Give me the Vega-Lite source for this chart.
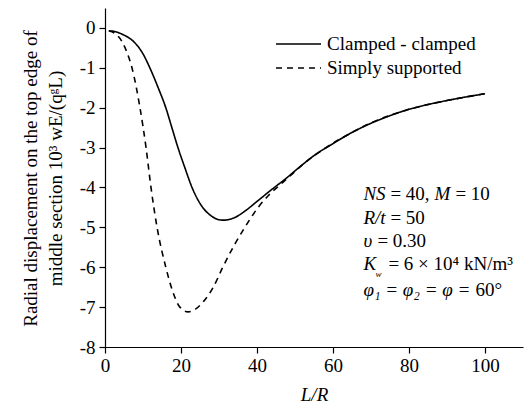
{
  "$schema": "https://vega.github.io/schema/vega-lite/v6.json",
  "width": 418,
  "height": 339,
  "autosize": "none",
  "padding": {"left": 105, "top": 8, "right": 3, "bottom": 60},
  "background": "white",
  "config": {
    "view": {"stroke": null},
    "font": "Liberation Serif",
    "axis": {"grid": false, "domainColor": "black", "tickColor": "black", "labelColor": "black", "titleColor": "black", "labelFont": "Liberation Serif", "titleFont": "Liberation Serif", "labelFontSize": 19, "titleFontSize": 19, "titleFontWeight": "normal", "domainWidth": 1.2, "tickWidth": 1.2, "labelOverlap": false},
    "text": {"font": "Liberation Serif", "fontSize": 19, "color": "black"}
  },
  "datasets": {
    "curves": [
      {"s": "Clamped - clamped", "x": 1, "y": -0.07},
      {"s": "Clamped - clamped", "x": 3, "y": -0.1},
      {"s": "Clamped - clamped", "x": 5, "y": -0.18},
      {"s": "Clamped - clamped", "x": 7.4, "y": -0.33},
      {"s": "Clamped - clamped", "x": 10, "y": -0.65},
      {"s": "Clamped - clamped", "x": 11.8, "y": -1.0},
      {"s": "Clamped - clamped", "x": 14, "y": -1.5},
      {"s": "Clamped - clamped", "x": 16, "y": -2.0},
      {"s": "Clamped - clamped", "x": 17.6, "y": -2.5},
      {"s": "Clamped - clamped", "x": 19.2, "y": -3.0},
      {"s": "Clamped - clamped", "x": 21, "y": -3.5},
      {"s": "Clamped - clamped", "x": 22.9, "y": -4.0},
      {"s": "Clamped - clamped", "x": 25, "y": -4.4},
      {"s": "Clamped - clamped", "x": 27.5, "y": -4.68},
      {"s": "Clamped - clamped", "x": 31, "y": -4.82},
      {"s": "Clamped - clamped", "x": 34, "y": -4.76},
      {"s": "Clamped - clamped", "x": 37, "y": -4.58},
      {"s": "Clamped - clamped", "x": 40, "y": -4.35},
      {"s": "Clamped - clamped", "x": 43.5, "y": -4.08},
      {"s": "Clamped - clamped", "x": 47.8, "y": -3.76},
      {"s": "Clamped - clamped", "x": 51.3, "y": -3.48},
      {"s": "Clamped - clamped", "x": 55, "y": -3.2},
      {"s": "Clamped - clamped", "x": 60, "y": -2.9},
      {"s": "Clamped - clamped", "x": 65, "y": -2.62},
      {"s": "Clamped - clamped", "x": 70, "y": -2.39},
      {"s": "Clamped - clamped", "x": 75, "y": -2.2},
      {"s": "Clamped - clamped", "x": 80, "y": -2.04},
      {"s": "Clamped - clamped", "x": 85, "y": -1.92},
      {"s": "Clamped - clamped", "x": 90, "y": -1.82},
      {"s": "Clamped - clamped", "x": 95, "y": -1.73},
      {"s": "Clamped - clamped", "x": 100, "y": -1.65},
      {"s": "Simply supported", "x": 1, "y": -0.07},
      {"s": "Simply supported", "x": 2.5, "y": -0.13},
      {"s": "Simply supported", "x": 4.4, "y": -0.33},
      {"s": "Simply supported", "x": 5.8, "y": -0.62},
      {"s": "Simply supported", "x": 7.1, "y": -1.0},
      {"s": "Simply supported", "x": 9.2, "y": -2.0},
      {"s": "Simply supported", "x": 10.8, "y": -3.0},
      {"s": "Simply supported", "x": 12.1, "y": -4.0},
      {"s": "Simply supported", "x": 13.7, "y": -5.0},
      {"s": "Simply supported", "x": 16, "y": -6.0},
      {"s": "Simply supported", "x": 17.8, "y": -6.6},
      {"s": "Simply supported", "x": 19.7, "y": -7.0},
      {"s": "Simply supported", "x": 21.9, "y": -7.12},
      {"s": "Simply supported", "x": 23.8, "y": -7.05},
      {"s": "Simply supported", "x": 26, "y": -6.85},
      {"s": "Simply supported", "x": 28.5, "y": -6.5},
      {"s": "Simply supported", "x": 31, "y": -6.0},
      {"s": "Simply supported", "x": 34, "y": -5.45},
      {"s": "Simply supported", "x": 36.8, "y": -5.0},
      {"s": "Simply supported", "x": 40.3, "y": -4.5},
      {"s": "Simply supported", "x": 43, "y": -4.2},
      {"s": "Simply supported", "x": 45.5, "y": -3.98},
      {"s": "Simply supported", "x": 48, "y": -3.77},
      {"s": "Simply supported", "x": 52, "y": -3.43},
      {"s": "Simply supported", "x": 56, "y": -3.14},
      {"s": "Simply supported", "x": 60, "y": -2.89},
      {"s": "Simply supported", "x": 65, "y": -2.62},
      {"s": "Simply supported", "x": 70, "y": -2.38},
      {"s": "Simply supported", "x": 75, "y": -2.19},
      {"s": "Simply supported", "x": 80, "y": -2.04},
      {"s": "Simply supported", "x": 85, "y": -1.92},
      {"s": "Simply supported", "x": 90, "y": -1.82},
      {"s": "Simply supported", "x": 95, "y": -1.73},
      {"s": "Simply supported", "x": 100, "y": -1.65}
    ],
    "notes": [{"k": 1}]
  },
  "layer": [
    {
      "data": {"name": "curves"},
      "mark": {"type": "line", "color": "black", "strokeWidth": 1.6, "interpolate": "monotone"},
      "encoding": {
        "x": {"field": "x", "type": "quantitative", "scale": {"domain": [0, 110], "nice": false},
          "axis": {"orient": "bottom", "values": [0,5,10,15,20,25,30,35,40,45,50,55,60,65,70,75,80,85,90,95,100,105,110],
            "tickSize": {"condition": {"test": "datum.value % 20 === 0 && datum.value <= 100", "value": 6}, "value": 4},
            "labelExpr": "datum.value % 20 === 0 && datum.value <= 100 ? format(datum.value, 'd') : ''",
            "labelPadding": 3, "title": "L/R", "titleFontStyle": "italic", "titlePadding": 10, "labelFlush": false}},
        "y": {"field": "y", "type": "quantitative", "scale": {"domain": [-8, 0.5], "nice": false, "zero": false},
          "axis": {"orient": "left", "values": [-8,-7.75,-7.5,-7.25,-7,-6.75,-6.5,-6.25,-6,-5.75,-5.5,-5.25,-5,-4.75,-4.5,-4.25,-4,-3.75,-3.5,-3.25,-3,-2.75,-2.5,-2.25,-2,-1.75,-1.5,-1.25,-1,-0.75,-0.5,-0.25,0,0.25,0.5],
            "tickSize": {"condition": {"test": "datum.value % 1 === 0", "value": 6}, "value": 4},
            "labelExpr": "datum.value % 1 === 0 ? replace(format(datum.value, 'd'), '−', '-') : ''",
            "labelPadding": 4,
            "title": ["Radial displacement on the top edge of", "middle section  10³ wE/(qᵍL)"],
            "titleAngle": -90, "titleX": -75, "titleY": 170, "titleAlign": "center", "titleBaseline": "middle", "titleLineHeight": 25}},
        "strokeDash": {"field": "s", "type": "nominal",
          "scale": {"domain": ["Clamped - clamped", "Simply supported"], "range": [[1, 0], [6, 5]]},
          "legend": {"orient": "none", "legendX": 170, "legendY": 25, "title": null, "symbolType": "stroke", "symbolSize": 2025, "symbolStrokeWidth": 1.6, "symbolStrokeColor": "black", "labelFontSize": 19, "labelFont": "Liberation Serif", "labelColor": "black", "labelOffset": 5, "clipHeight": 22, "rowPadding": 2}}
      }
    },
    {"data": {"name": "notes"}, "mark": {"type": "text", "align": "left", "baseline": "alphabetic", "fontStyle": "italic"}, "encoding": {"x": {"datum": 68}, "y": {"datum": -4.31}, "text": {"value": "NS"}}},
    {"data": {"name": "notes"}, "mark": {"type": "text", "align": "left", "baseline": "alphabetic", "dx": 27}, "encoding": {"x": {"datum": 68}, "y": {"datum": -4.31}, "text": {"value": "= 40,"}}},
    {"data": {"name": "notes"}, "mark": {"type": "text", "align": "left", "baseline": "alphabetic", "fontStyle": "italic", "dx": 71}, "encoding": {"x": {"datum": 68}, "y": {"datum": -4.31}, "text": {"value": "M"}}},
    {"data": {"name": "notes"}, "mark": {"type": "text", "align": "left", "baseline": "alphabetic", "dx": 92}, "encoding": {"x": {"datum": 68}, "y": {"datum": -4.31}, "text": {"value": "= 10"}}},
    {"data": {"name": "notes"}, "mark": {"type": "text", "align": "left", "baseline": "alphabetic", "fontStyle": "italic"}, "encoding": {"x": {"datum": 68}, "y": {"datum": -4.91}, "text": {"value": "R/t"}}},
    {"data": {"name": "notes"}, "mark": {"type": "text", "align": "left", "baseline": "alphabetic", "dx": 27}, "encoding": {"x": {"datum": 68}, "y": {"datum": -4.91}, "text": {"value": "= 50"}}},
    {"data": {"name": "notes"}, "mark": {"type": "text", "align": "left", "baseline": "alphabetic", "fontStyle": "italic"}, "encoding": {"x": {"datum": 68}, "y": {"datum": -5.49}, "text": {"value": "υ"}}},
    {"data": {"name": "notes"}, "mark": {"type": "text", "align": "left", "baseline": "alphabetic", "dx": 14}, "encoding": {"x": {"datum": 68}, "y": {"datum": -5.49}, "text": {"value": "= 0.30"}}},
    {"data": {"name": "notes"}, "mark": {"type": "text", "align": "left", "baseline": "alphabetic", "fontStyle": "italic"}, "encoding": {"x": {"datum": 68}, "y": {"datum": -6.07}, "text": {"value": "K"}}},
    {"data": {"name": "notes"}, "mark": {"type": "text", "align": "left", "baseline": "alphabetic", "fontStyle": "italic", "fontSize": 9, "dx": 12, "dy": 7}, "encoding": {"x": {"datum": 68}, "y": {"datum": -6.07}, "text": {"value": "w"}}},
    {"data": {"name": "notes"}, "mark": {"type": "text", "align": "left", "baseline": "alphabetic", "dx": 25}, "encoding": {"x": {"datum": 68}, "y": {"datum": -6.07}, "text": {"value": "= 6 × 10⁴ kN/m³"}}},
    {"data": {"name": "notes"}, "mark": {"type": "text", "align": "left", "baseline": "alphabetic", "fontStyle": "italic"}, "encoding": {"x": {"datum": 68}, "y": {"datum": -6.72}, "text": {"value": "φ₁ = φ₂ = φ ="}}},
    {"data": {"name": "notes"}, "mark": {"type": "text", "align": "left", "baseline": "alphabetic", "dx": 112}, "encoding": {"x": {"datum": 68}, "y": {"datum": -6.72}, "text": {"value": "60°"}}}
  ]
}
